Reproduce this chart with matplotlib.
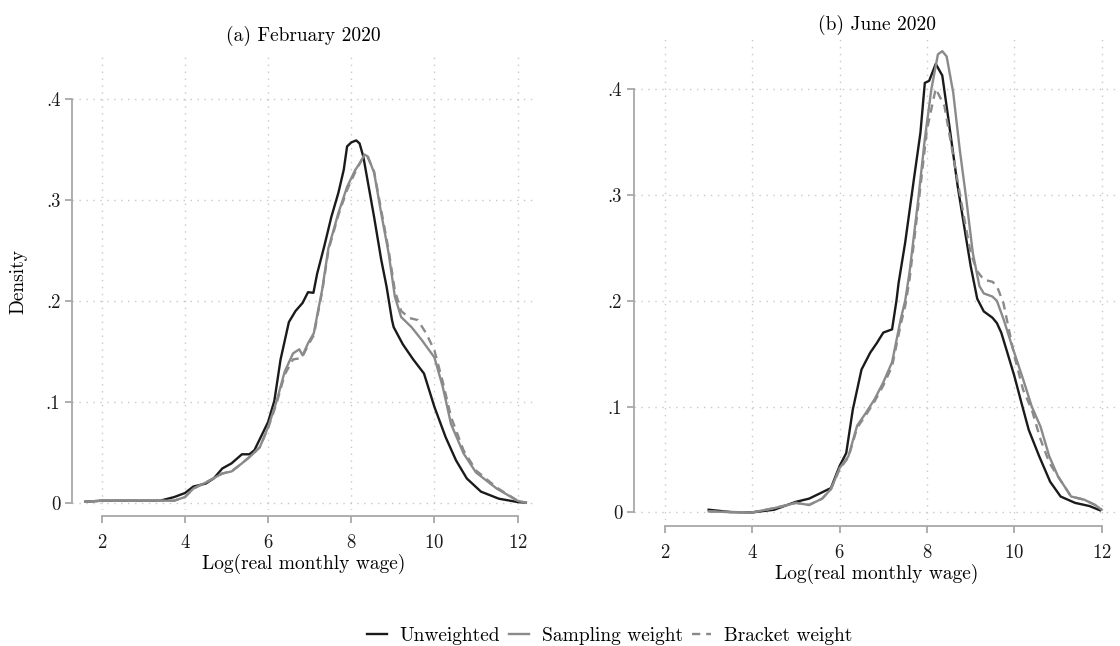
import matplotlib
matplotlib.use("Agg")
import matplotlib.pyplot as plt

plt.rcParams['font.family'] = ['cmr10', 'DejaVu Serif']
plt.rcParams['axes.formatter.use_mathtext'] = True

# (a) February 2020
feb_unw_x = [1.6, 2.0, 2.5, 3.0, 3.4, 3.74, 4.0, 4.2, 4.5, 4.69, 4.9, 5.12, 5.37, 5.55, 5.67, 6.0, 6.15, 6.3, 6.5, 6.66,
             6.83, 6.96, 7.09, 7.18, 7.35, 7.52, 7.69, 7.82, 7.9, 8.0, 8.12, 8.2, 8.29, 8.42, 8.55, 8.72, 8.85, 8.98,
             9.02, 9.24, 9.49, 9.75, 10.0, 10.27, 10.52, 10.78, 11.12, 11.55, 12.0, 12.2]
feb_unw_y = [0.001, 0.002, 0.002, 0.002, 0.002, 0.0056, 0.0096, 0.016, 0.019, 0.024, 0.034, 0.039, 0.048, 0.048, 0.052,
             0.08, 0.101, 0.142, 0.179, 0.19, 0.198, 0.2086, 0.208, 0.227, 0.254, 0.283, 0.307, 0.33, 0.353, 0.357,
             0.359, 0.356, 0.343, 0.313, 0.283, 0.241, 0.214, 0.181, 0.174, 0.157, 0.142, 0.128, 0.095, 0.065, 0.042,
             0.024, 0.011, 0.004, 0.0007, 0.0]
feb_smp_x = [1.6, 2.0, 2.5, 3.0, 3.5, 3.74, 4.0, 4.2, 4.5, 4.9, 5.12, 5.37, 5.6, 5.8, 6.0, 6.2, 6.4, 6.6, 6.75, 6.83,
             6.96, 7.1, 7.2, 7.3, 7.45, 7.69, 7.9, 8.1, 8.2, 8.32, 8.4, 8.55, 8.72, 8.9, 9.05, 9.2, 9.45, 9.7, 10.0,
             10.2, 10.4, 10.7, 11.0, 11.5, 12.0, 12.2]
feb_smp_y = [0.001, 0.002, 0.002, 0.002, 0.002, 0.002, 0.0056, 0.014, 0.02, 0.029, 0.031, 0.039, 0.047, 0.055, 0.075,
             0.1, 0.13, 0.148, 0.152, 0.146, 0.158, 0.168, 0.19, 0.211, 0.252, 0.287, 0.313, 0.33, 0.336, 0.345, 0.343,
             0.327, 0.287, 0.247, 0.204, 0.184, 0.174, 0.161, 0.144, 0.115, 0.078, 0.049, 0.03, 0.014, 0.002, 0.0]
feb_brk_x = [1.6, 2.0, 2.5, 3.0, 3.5, 3.74, 4.0, 4.2, 4.5, 4.9, 5.12, 5.37, 5.6, 5.8, 6.0, 6.2, 6.4, 6.6, 6.75, 6.83,
             6.96, 7.1, 7.2, 7.3, 7.45, 7.69, 7.9, 8.1, 8.2, 8.3, 8.4, 8.55, 8.72, 8.9, 9.05, 9.2, 9.4, 9.6, 9.8, 10.0,
             10.2, 10.4, 10.7, 11.0, 11.5, 12.0, 12.2]
feb_brk_y = [0.001, 0.002, 0.002, 0.002, 0.002, 0.002, 0.0056, 0.014, 0.02, 0.029, 0.031, 0.039, 0.047, 0.055, 0.074,
             0.098, 0.127, 0.142, 0.143, 0.145, 0.156, 0.166, 0.188, 0.209, 0.25, 0.285, 0.31, 0.328, 0.336, 0.343,
             0.342, 0.328, 0.29, 0.25, 0.21, 0.19, 0.183, 0.181, 0.168, 0.151, 0.12, 0.085, 0.052, 0.032, 0.015, 0.002,
             0.0]

# (b) June 2020
jun_unw_x = [3.0, 3.5, 4.0, 4.5, 5.0, 5.3, 5.5, 5.8, 6.0, 6.15, 6.3, 6.5, 6.7, 6.85, 7.0, 7.2, 7.3, 7.35, 7.5, 7.7,
             7.85, 7.95, 8.05, 8.2, 8.35, 8.5, 8.7, 8.9, 9.0, 9.15, 9.3, 9.5, 9.6, 9.7, 9.84, 10.0, 10.16, 10.33,
             10.57, 10.82, 11.06, 11.39, 11.72, 11.96]
jun_unw_y = [0.0025, 0.0003, 0.0, 0.0025, 0.01, 0.013, 0.017, 0.023, 0.044, 0.056, 0.097, 0.135, 0.151, 0.16, 0.17,
             0.173, 0.2, 0.217, 0.255, 0.315, 0.359, 0.406, 0.408, 0.424, 0.413, 0.369, 0.309, 0.258, 0.233, 0.202,
             0.19, 0.184, 0.179, 0.17, 0.151, 0.129, 0.104, 0.078, 0.053, 0.029, 0.015, 0.009, 0.006, 0.002]
jun_smp_x = [3.0, 3.5, 4.0, 4.5, 5.0, 5.3, 5.6, 5.8, 6.0, 6.2, 6.4, 6.6, 6.8, 7.0, 7.2, 7.4, 7.5, 7.6, 7.8, 7.95,
             8.1, 8.25, 8.35, 8.45, 8.6, 8.75, 8.9, 9.05, 9.2, 9.3, 9.5, 9.6, 9.75, 9.95, 10.2, 10.4, 10.6, 10.8,
             11.0, 11.3, 11.6, 11.85, 12.0]
jun_smp_y = [0.001, 0.0003, 0.0, 0.004, 0.009, 0.007, 0.013, 0.022, 0.042, 0.053, 0.082, 0.094, 0.107, 0.123, 0.142,
             0.183, 0.2, 0.227, 0.296, 0.353, 0.4, 0.433, 0.436, 0.431, 0.397, 0.343, 0.296, 0.245, 0.214, 0.207,
             0.204, 0.2, 0.183, 0.157, 0.126, 0.1, 0.081, 0.053, 0.034, 0.015, 0.012, 0.007, 0.0025]
jun_brk_x = [3.0, 3.5, 4.0, 4.5, 5.0, 5.3, 5.6, 5.8, 6.0, 6.2, 6.4, 6.6, 6.8, 7.0, 7.2, 7.4, 7.5, 7.6, 7.8, 8.0,
             8.2, 8.4, 8.6, 8.8, 9.0, 9.15, 9.3, 9.5, 9.6, 9.75, 9.85, 10.0, 10.2, 10.4, 10.6, 10.8, 11.0, 11.3,
             11.6, 11.85, 12.0]
jun_brk_y = [0.001, 0.0003, 0.0, 0.004, 0.009, 0.007, 0.013, 0.022, 0.041, 0.052, 0.08, 0.092, 0.105, 0.12, 0.138,
             0.178, 0.195, 0.22, 0.29, 0.362, 0.4006, 0.384, 0.337, 0.29, 0.245, 0.228, 0.22, 0.218, 0.214, 0.198,
             0.178, 0.148, 0.116, 0.097, 0.069, 0.047, 0.034, 0.015, 0.012, 0.007, 0.003]

xticks = [2, 4, 6, 8, 10, 12]
yticks = [0, 0.1, 0.2, 0.3, 0.4]
ytick_labels = ["0", ".1", ".2", ".3", ".4"]
series_names = ["Unweighted", "Sampling weight", "Bracket weight"]

W, H = 1120, 646
fig = plt.figure(figsize=(W / 100, H / 100), dpi=100)
ax1 = fig.add_axes([72.3 / W, 1 - 510 / H, 462.7 / W, 457 / H])
ax2 = fig.add_axes([634 / W, 1 - 520 / H, 486 / W, 483 / H])

panels = [
    (ax1, "(a) February 2020", feb_unw_x, feb_unw_y, feb_smp_x, feb_smp_y, feb_brk_x, feb_brk_y, 0.4456, 9),
    (ax2, "(b) June 2020", jun_unw_x, jun_unw_y, jun_smp_x, jun_smp_y, jun_brk_x, jun_brk_y, 0.4494, 5),
]

lines = []
for ax, title, ux, uy, sx, sy, bx, by, ytop, tpad in panels:
    l1, = ax.plot(ux, uy, color="#1a1a1a", lw=1.7)
    l2, = ax.plot(sx, sy, color="#8a8a8a", lw=1.7)
    l3, = ax.plot(bx, by, color="#8a8a8a", lw=1.7, ls=(0, (3.5, 2.5)))
    lines = [l1, l2, l3]
    ax.set_xlim(1.29, 12.42)
    ax.set_ylim(-0.0072, ytop)
    ax.set_xticks(xticks)
    ax.set_yticks(yticks)
    ax.set_yticklabels(ytick_labels)
    ax.grid(True, color="#c8c8c8", ls=(0, (1, 4)), lw=1.0)
    for s in ["top", "right"]:
        ax.spines[s].set_visible(False)
    ax.spines["bottom"].set_position(("outward", 4.5))
    ax.spines["bottom"].set_bounds(2, 12)
    ax.spines["left"].set_bounds(0, 0.4)
    for s in ["bottom", "left"]:
        ax.spines[s].set_color("#a8a8a8")
        ax.spines[s].set_linewidth(1.3)
    ax.tick_params(axis="both", colors="#a8a8a8", labelcolor="#1a1a1a", labelsize=13.5, width=1.3, length=5)
    ax.tick_params(axis="x", pad=8)
    ax.set_xlabel("Log(real monthly wage)", fontsize=14, labelpad=1)
    ax.set_title(title, fontsize=14, pad=tpad)

ax1.set_ylabel("Density", fontsize=14, labelpad=13)

fig.legend(lines, series_names, loc="center", bbox_to_anchor=(610 / W, 1 - 636 / H), ncol=3, frameon=False,
           fontsize=14, handlelength=1.0, handletextpad=0.67, columnspacing=0.46)

fig.savefig("out.png", dpi=100)
